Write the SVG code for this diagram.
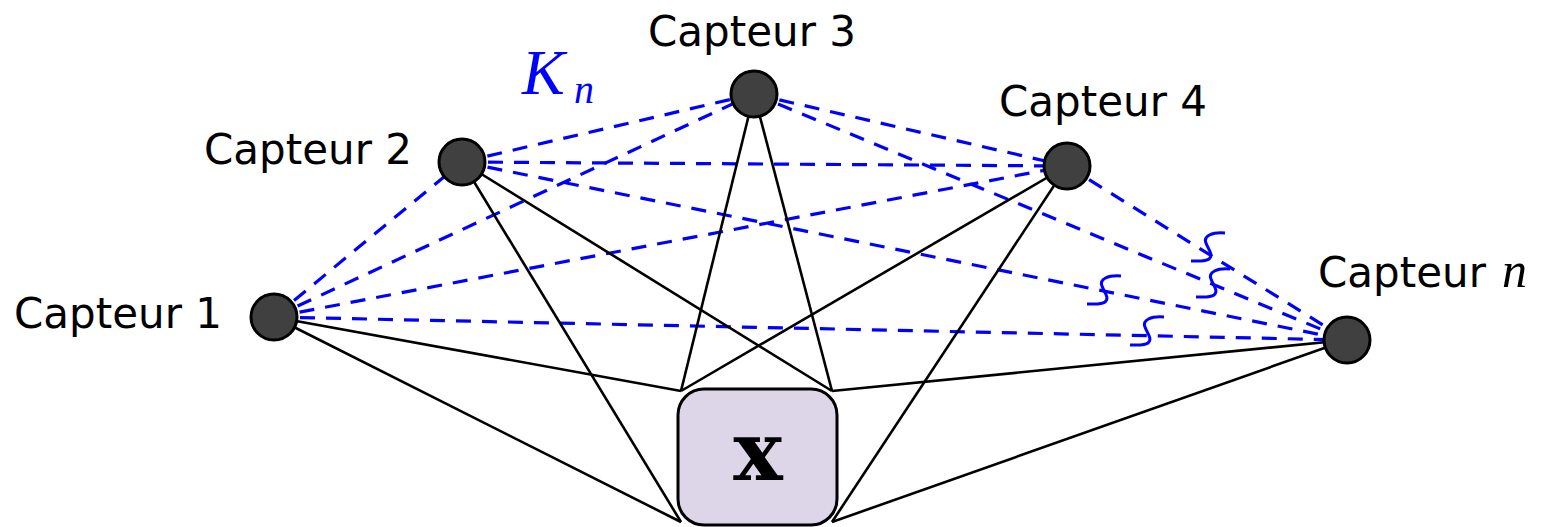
<svg xmlns="http://www.w3.org/2000/svg" width="1548" height="527" viewBox="0 0 1548 527">
<style>
.lbl{font-family:"DejaVu Sans",sans-serif;font-size:42px;fill:#000}
.math{font-family:"Liberation Serif",serif;font-style:italic}
.k{stroke:#0000ff;stroke-width:3.2;stroke-dasharray:15 11;fill:none}
.s{stroke:#000;stroke-width:2.6;fill:none}
.w{stroke:#0000ff;stroke-width:3;fill:none}
.node{fill:#404040;stroke:#000;stroke-width:3}
</style>
<defs>
<path id="sq" d="M17,-15 C4,-16 -5,-12 -2,-5 C0,1 6,7 1,11 C-3,14 -10,13 -17,13"/>
</defs>
<g id="connectors">
<g id="complete-graph">
<line class="k" x1="274" y1="317" x2="462" y2="162"/>
<line class="k" x1="274" y1="317" x2="754" y2="94"/>
<line class="k" x1="274" y1="317" x2="1067" y2="166"/>
<line class="k" x1="274" y1="317" x2="1347" y2="340"/>
<line class="k" x1="462" y1="162" x2="754" y2="94"/>
<line class="k" x1="462" y1="162" x2="1067" y2="166"/>
<line class="k" x1="462" y1="162" x2="1347" y2="340"/>
<line class="k" x1="754" y1="94" x2="1067" y2="166"/>
<line class="k" x1="754" y1="94" x2="1347" y2="340"/>
<line class="k" x1="1067" y1="166" x2="1347" y2="340"/>
<use href="#sq" class="w" x="1147" y="332"/>
<use href="#sq" class="w" x="1104" y="291"/>
<use href="#sq" class="w" x="1213" y="284"/>
<use href="#sq" class="w" x="1208" y="248"/>
</g>
<g id="to-x">
<line class="s" x1="274" y1="317" x2="681" y2="391"/>
<line class="s" x1="274" y1="317" x2="681" y2="522"/>
<line class="s" x1="462" y1="162" x2="681" y2="522"/>
<line class="s" x1="462" y1="162" x2="832" y2="391"/>
<line class="s" x1="754" y1="94" x2="681" y2="391"/>
<line class="s" x1="754" y1="94" x2="832" y2="391"/>
<line class="s" x1="1067" y1="166" x2="681" y2="391"/>
<line class="s" x1="1067" y1="166" x2="832" y2="522"/>
<line class="s" x1="1347" y1="340" x2="832" y2="391"/>
<line class="s" x1="1347" y1="340" x2="832" y2="522"/>
</g>
</g>
<g id="x">
<rect x="678" y="389" width="159" height="136" rx="26" fill="#ddd6e8" stroke="#000" stroke-width="3"/>
<text x="758" y="480" text-anchor="middle" font-family="DejaVu Serif,serif" font-weight="bold" font-size="83">x</text>
</g>
<g id="capteur1"><circle class="node" cx="274" cy="317" r="23"/><text class="lbl" x="14" y="328">Capteur 1</text></g>
<g id="capteur2"><circle class="node" cx="462" cy="162" r="23"/><text class="lbl" x="204" y="164">Capteur 2</text></g>
<g id="capteur3"><circle class="node" cx="754" cy="94" r="23"/><text class="lbl" x="648" y="46">Capteur 3</text></g>
<g id="capteur4"><circle class="node" cx="1067" cy="166" r="23"/><text class="lbl" x="999" y="116">Capteur 4</text></g>
<g id="capteurn"><circle class="node" cx="1347" cy="340" r="23"/><text class="lbl" x="1318" y="287">Capteur</text><text class="math" x="1502" y="287" font-size="50">n</text></g>
<g id="kn-label"><text class="math" x="522" y="94" font-size="64" fill="#0000ff">K<tspan x="574" y="103" font-size="40">n</tspan></text></g>
</svg>
